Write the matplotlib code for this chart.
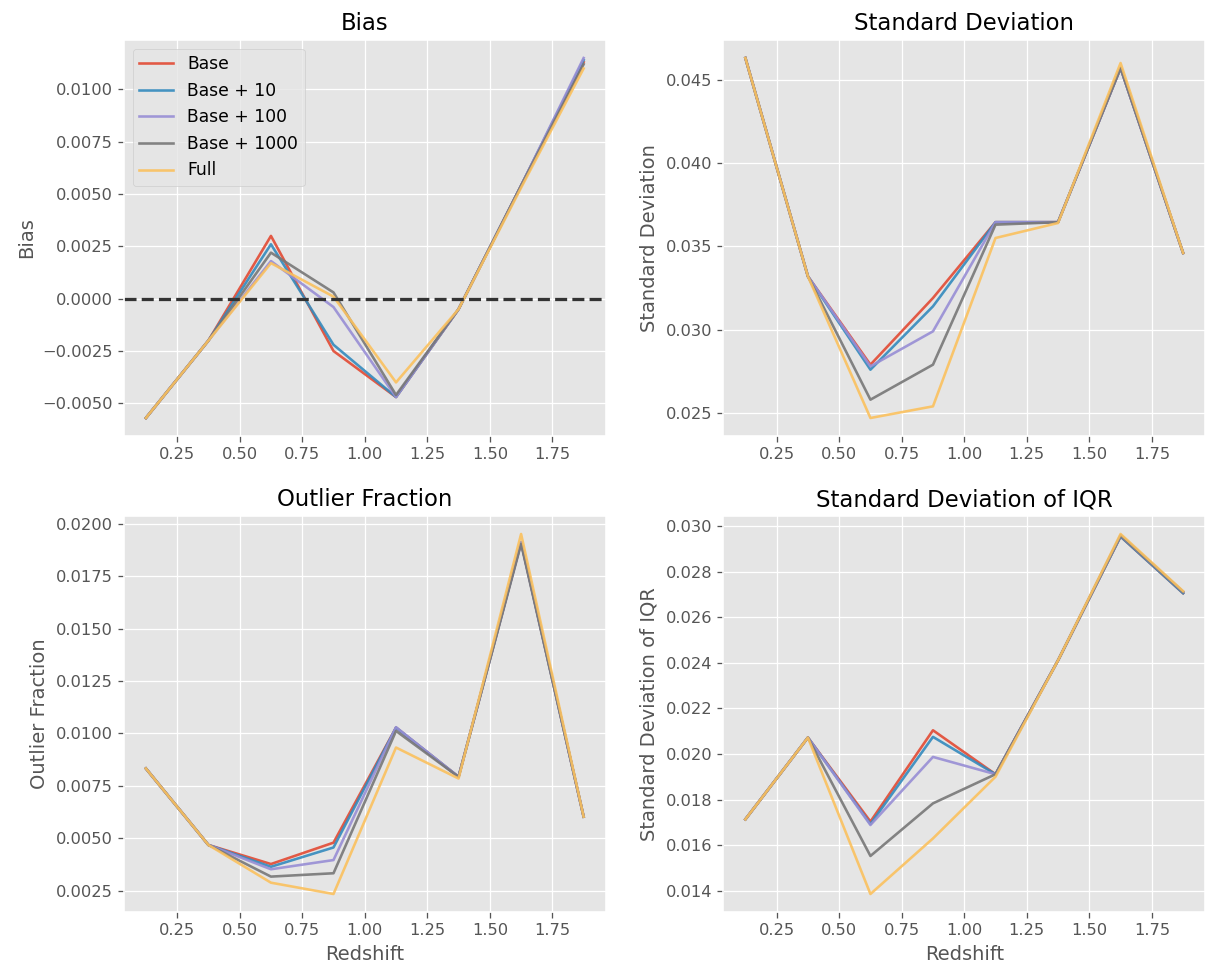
import matplotlib
matplotlib.use("Agg")
import matplotlib.pyplot as plt

plt.style.use("ggplot")

redshift = [0.125, 0.375, 0.625, 0.875, 1.125, 1.375, 1.625, 1.875]
labels = ["Base", "Base + 10", "Base + 100", "Base + 1000", "Full"]

bias = {
    "Base":        [-0.0057, -0.0020, 0.0030, -0.0025, -0.0047, -0.0005, 0.0054, 0.0113],
    "Base + 10":   [-0.0057, -0.0020, 0.0026, -0.0022, -0.0047, -0.0005, 0.0054, 0.0114],
    "Base + 100":  [-0.0057, -0.0020, 0.0018, -0.0004, -0.0047, -0.0005, 0.0054, 0.0115],
    "Base + 1000": [-0.0057, -0.0020, 0.0022, 0.0003, -0.0046, -0.0005, 0.0054, 0.0112],
    "Full":        [-0.0057, -0.0020, 0.0017, 0.0001, -0.0040, -0.0005, 0.0053, 0.0110],
}
std = {
    "Base":        [0.0463, 0.0332, 0.0279, 0.0319, 0.03645, 0.03645, 0.0457, 0.0346],
    "Base + 10":   [0.0463, 0.0332, 0.0276, 0.0314, 0.03645, 0.03645, 0.0457, 0.0346],
    "Base + 100":  [0.0463, 0.0332, 0.0278, 0.0299, 0.03645, 0.03645, 0.0457, 0.0346],
    "Base + 1000": [0.0463, 0.0332, 0.0258, 0.0279, 0.0363, 0.03645, 0.0457, 0.0346],
    "Full":        [0.0463, 0.0332, 0.0247, 0.0254, 0.0355, 0.0364, 0.0460, 0.0346],
}
outlier = {
    "Base":        [0.00833, 0.00468, 0.00377, 0.00479, 0.01028, 0.00793, 0.01913, 0.00603],
    "Base + 10":   [0.00833, 0.00468, 0.00364, 0.00456, 0.01028, 0.00793, 0.01913, 0.00603],
    "Base + 100":  [0.00833, 0.00468, 0.00352, 0.00396, 0.01030, 0.00793, 0.01913, 0.00603],
    "Base + 1000": [0.00833, 0.00468, 0.00317, 0.00333, 0.01012, 0.00793, 0.01905, 0.00603],
    "Full":        [0.00833, 0.00468, 0.00288, 0.00234, 0.00933, 0.00785, 0.01952, 0.00603],
}
iqr = {
    "Base":        [0.01713, 0.02072, 0.01703, 0.02104, 0.01911, 0.02411, 0.02955, 0.02706],
    "Base + 10":   [0.01713, 0.02072, 0.01692, 0.02075, 0.01911, 0.02411, 0.02955, 0.02706],
    "Base + 100":  [0.01713, 0.02072, 0.01688, 0.01987, 0.01911, 0.02411, 0.02960, 0.02712],
    "Base + 1000": [0.01713, 0.02072, 0.01552, 0.01783, 0.01911, 0.02411, 0.02960, 0.02712],
    "Full":        [0.01713, 0.02072, 0.01385, 0.01629, 0.01900, 0.02411, 0.02966, 0.02715],
}

colors = ["#E24A33", "#348ABD", "#988ED5", "#777777", "#FBC15E"]

panels = [
    ("Bias", "Bias", bias),
    ("Standard Deviation", "Standard Deviation", std),
    ("Outlier Fraction", "Outlier Fraction", outlier),
    ("Standard Deviation of IQR", "Standard Deviation of IQR", iqr),
]

DPI = 117
fig, axes = plt.subplots(2, 2, figsize=(1206 / DPI, 971 / DPI), dpi=DPI)
fig.subplots_adjust(left=124 / 1206, right=1205 / 1206,
                    top=1 - 40 / 971, bottom=1 - 912 / 971,
                    wspace=0.245, hspace=0.202)

for i, (ax, (title, ylab, data)) in enumerate(zip(axes.flat, panels)):
    for lab, c in zip(labels, colors):
        ax.plot(redshift, data[lab], color=c, lw=1.6, alpha=0.9, label=lab)
    ax.set_title(title, fontsize=14)
    ax.set_ylabel(ylab)
    ax.set_xticks([0.25, 0.5, 0.75, 1.0, 1.25, 1.5, 1.75])
    if i >= 2:
        ax.set_xlabel("Redshift")
    if i == 0:
        ax.axhline(0, color="#333333", ls="--", lw=2)
        ax.legend(loc="upper left", fontsize=10.5)

fig.savefig("out.png", dpi=DPI)
